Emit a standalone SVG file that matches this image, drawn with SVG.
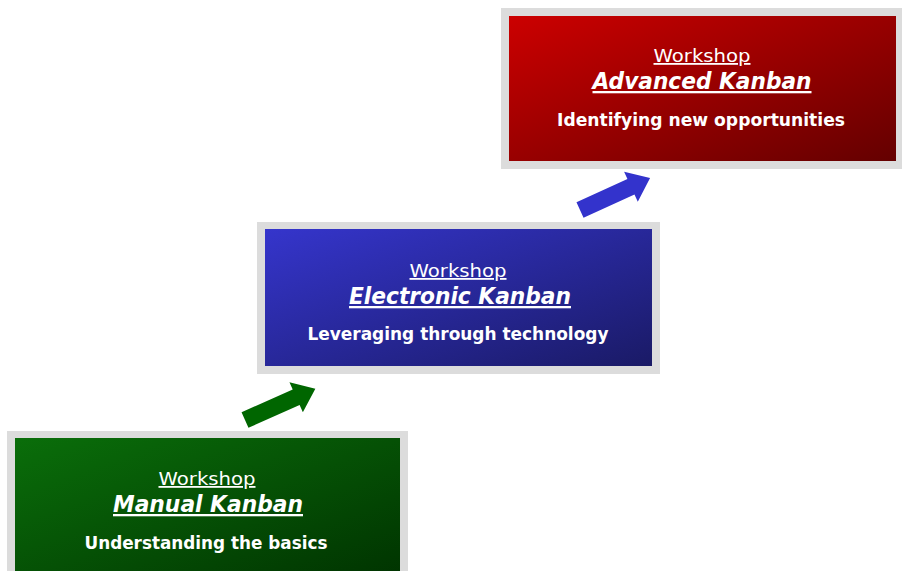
<svg xmlns="http://www.w3.org/2000/svg" width="903" height="571" viewBox="0 0 903 571">
<style>
.frame{fill:#dcdcdc}
.t{fill:#fff;font-family:"DejaVu Sans","Liberation Sans",sans-serif;text-anchor:middle}
.ws{font-size:18px;text-decoration:underline}
.ttl{font-size:23px;font-weight:bold;font-style:italic;text-decoration:underline}
.sub{font-size:18px;font-weight:bold}
</style>
<defs>
<linearGradient id="gr" x1="0" y1="0" x2="1" y2="1">
<stop offset="0" stop-color="#cc0000"/><stop offset="1" stop-color="#640000"/>
</linearGradient>
<linearGradient id="gb" x1="0" y1="0" x2="1" y2="1">
<stop offset="0" stop-color="#3535cc"/><stop offset="1" stop-color="#1a1a66"/>
</linearGradient>
<linearGradient id="gg" x1="0" y1="0" x2="1" y2="1">
<stop offset="0" stop-color="#0a6e0a"/><stop offset="1" stop-color="#003300"/>
</linearGradient>
<polygon id="arrow" points="0,-8.5 56,-8.5 56,-16.5 77,0 56,16.5 56,8.5 0,8.5"/>
</defs>
<rect width="903" height="571" fill="#fff"/>
<g id="connectors">
<use href="#arrow" fill="#006600" transform="translate(245,420) rotate(-24)"/>
<use href="#arrow" fill="#3333cc" transform="translate(580,210) rotate(-24.5)"/>
</g>
<g id="node-advanced">
<rect class="frame" x="501" y="8" width="401" height="161"/>
<rect x="509" y="16" width="387" height="145" fill="url(#gr)"/>
<text class="t ws" x="702" y="62" textLength="97" lengthAdjust="spacingAndGlyphs">Workshop</text>
<text class="t ttl" x="702" y="89" textLength="219" lengthAdjust="spacingAndGlyphs">Advanced Kanban</text>
<text class="t sub" x="701" y="126" textLength="288" lengthAdjust="spacingAndGlyphs">Identifying new opportunities</text>
</g>
<g id="node-electronic">
<rect class="frame" x="257" y="222" width="403" height="152"/>
<rect x="265" y="229" width="387" height="137" fill="url(#gb)"/>
<text class="t ws" x="458" y="277" textLength="97" lengthAdjust="spacingAndGlyphs">Workshop</text>
<text class="t ttl" x="460" y="304" textLength="222" lengthAdjust="spacingAndGlyphs">Electronic Kanban</text>
<text class="t sub" x="458" y="340" textLength="301" lengthAdjust="spacingAndGlyphs">Leveraging through technology</text>
</g>
<g id="node-manual">
<rect class="frame" x="7" y="431" width="401" height="150"/>
<rect x="15" y="438" width="385" height="143" fill="url(#gg)"/>
<text class="t ws" x="207" y="485" textLength="97" lengthAdjust="spacingAndGlyphs">Workshop</text>
<text class="t ttl" x="208" y="512" textLength="190" lengthAdjust="spacingAndGlyphs">Manual Kanban</text>
<text class="t sub" x="206" y="549" textLength="243" lengthAdjust="spacingAndGlyphs">Understanding the basics</text>
</g>
</svg>
